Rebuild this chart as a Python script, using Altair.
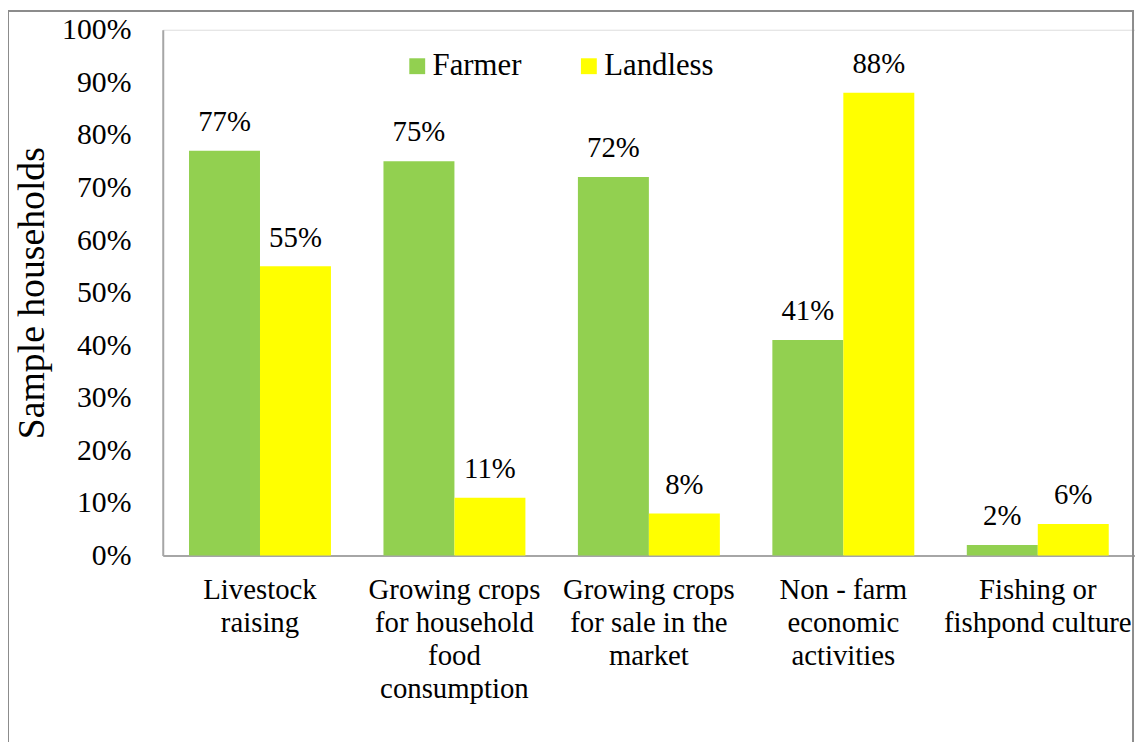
import altair as alt
import pandas as pd

categories = [
    "Livestock|raising",
    "Growing crops|for household|food|consumption",
    "Growing crops|for sale in the|market",
    "Non - farm|economic|activities",
    "Fishing or|fishpond culture",
]
series = ["Farmer", "Landless"]
farmer = [0.77, 0.75, 0.72, 0.41, 0.02]
landless = [0.55, 0.11, 0.08, 0.88, 0.06]
colors = ["#92D050", "#FFFF00"]
y_ticks = [0, 0.1, 0.2, 0.3, 0.4, 0.5, 0.6, 0.7, 0.8, 0.9, 1.0]

rows = []
for c, f, l in zip(categories, farmer, landless):
    rows.append({"Category": c, "Series": "Farmer", "Value": f})
    rows.append({"Category": c, "Series": "Landless", "Value": l})
df = pd.DataFrame(rows)

FONT = "Tinos, Times, 'Nimbus Roman', 'Noto Serif', 'DejaVu Serif'"

x_enc = alt.X(
    "Category:N",
    sort=categories,
    scale=alt.Scale(paddingInner=0.27, paddingOuter=0.135),
    axis=alt.Axis(
        title=None,
        labelAngle=0,
        labelExpr="split(datum.label, '|')",
        labelFontSize=29,
        labelLineHeight=33.5,
        labelPadding=20,
        labelBaseline="top",
        labelLimit=400,
        ticks=False,
        domainColor="#a6a6a6",
        domainWidth=2,
        labelColor="#000000",
        labelFont=FONT,
    ),
)
y_enc = alt.Y(
    "Value:Q",
    scale=alt.Scale(domain=[0, 1]),
    axis=alt.Axis(
        title="Sample households",
        values=y_ticks,
        format=".0%",
        grid=False,
        ticks=False,
        labelFontSize=30,
        labelPadding=32,
        labelFont=FONT,
        labelColor="#000000",
        titleFont=FONT,
        titleFontSize=38,
        titleFontWeight="normal",
        titleColor="#000000",
        titlePadding=10,
        domainColor="#a6a6a6",
        domainWidth=2,
    ),
)

base = alt.Chart(df).encode(
    x=x_enc,
    xOffset=alt.XOffset("Series:N", sort=series),
    y=y_enc,
)

bars = base.mark_bar().encode(
    color=alt.Color(
        "Series:N",
        sort=series,
        scale=alt.Scale(domain=series, range=colors),
        legend=alt.Legend(
            title=None,
            orient="none",
            direction="horizontal",
            legendX=241,
            legendY=21,
            symbolType="square",
            symbolSize=256,
            symbolStrokeWidth=0,
            labelFontSize=31,
            labelFont=FONT,
            labelColor="#000000",
            labelOffset=0,
            columnPadding=52,
        ),
    )
)

labels = base.mark_text(
    baseline="alphabetic", dy=-20, fontSize=29, font=FONT, color="#000000"
).encode(text=alt.Text("Value:Q", format=".0%"))

frame = alt.Chart(pd.DataFrame({"f": [0]})).mark_rect(
    fill=None, stroke="#8c8c8c", strokeWidth=2
).encode(
    x=alt.value(-156), x2=alt.value(978), y=alt.value(-19), y2=alt.value(730)
)

chart = (
    alt.layer(frame, bars, labels)
    .properties(
        width=980,
        height=530,
        padding={"left": 156, "top": 19, "right": 0, "bottom": 185},
        autosize=alt.AutoSizeParams(type="none"),
        background="white",
    )
    .configure_view(stroke=None)
    .configure(font=FONT)
)

chart.save("out.html", embed_options={"renderer": "svg", "actions": False})
